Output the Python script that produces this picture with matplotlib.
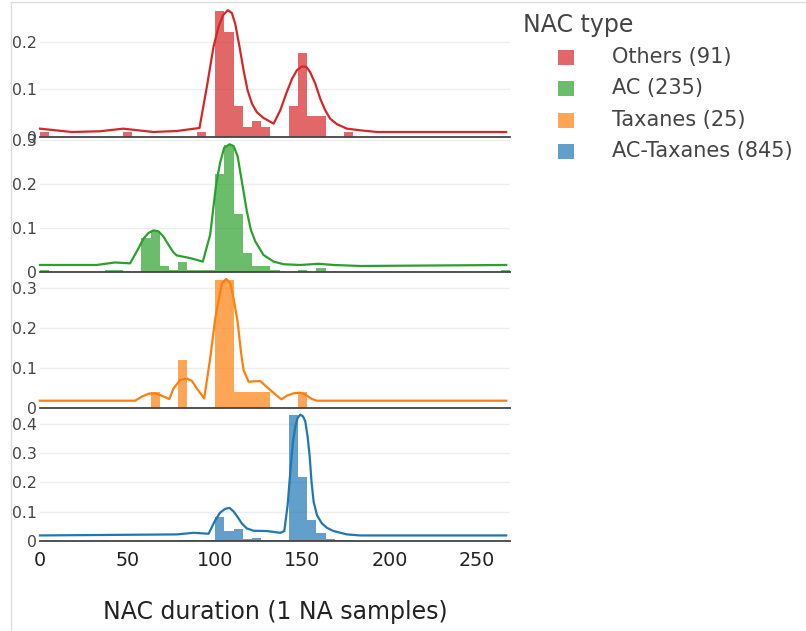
import numpy as np
import matplotlib
matplotlib.use("Agg")
import matplotlib.pyplot as plt
from matplotlib.patches import Rectangle
from matplotlib.lines import Line2D

plt.rcParams['font.family'] = ['DejaVu Sans']

# Histogram bins (shared bin size, all groups start at 0)
bin_width = 5.27
n_bins = 51

# Groups, top to bottom
group_names = ["Others", "AC", "Taxanes", "AC-Taxanes"]
group_sizes = [91, 235, 25, 845]
group_colors = ["#d62728", "#2ca02c", "#ff7f0e", "#1f77b4"]

# counts per bin index (sparse)
others_bins = [0, 9, 17, 19, 20, 21, 22, 23, 24, 27, 28, 29, 30, 33]
others_counts = [1, 1, 1, 24, 20, 6, 2, 3, 2, 6, 16, 4, 4, 1]

ac_bins = [0, 7, 8, 11, 12, 13, 14, 15, 16, 17, 18, 19, 20, 21, 22, 23, 24, 25, 28, 30, 50]
ac_counts = [1, 1, 1, 18, 22, 3, 1, 5, 1, 1, 1, 52, 68, 31, 10, 3, 3, 1, 1, 2, 1]

tax_bins = [12, 15, 19, 20, 21, 22, 23, 24, 28]
tax_counts = [1, 3, 8, 8, 1, 1, 1, 1, 1]

act_bins = [12, 15, 16, 17, 18, 19, 20, 21, 22, 23, 24, 25, 26, 27, 28, 29, 30, 31, 32, 33, 34, 36, 48]
act_counts = [1, 2, 2, 2, 2, 69, 30, 36, 6, 9, 3, 2, 2, 363, 184, 60, 22, 6, 3, 3, 1, 1, 1]

# KDE curves
others_kde_x = [0, 18.1, 34.3, 47.6, 64.9, 78.2, 91.2, 95.4, 99.2, 102.1, 104.6, 107.4, 109.7, 111.6,
                114.1, 116.4, 118.7, 121.2, 124.0, 127.8, 133.6, 137.4, 140.8, 144.1, 146.9, 149.8,
                152.3, 154.5, 157.4, 160.3, 163.1, 166.0, 169.8, 175.5, 183.2, 192.7, 266.6]
others_kde_y = [0.0175, 0.0105, 0.012, 0.0175, 0.0105, 0.0126, 0.0189, 0.105, 0.189, 0.231, 0.255,
                0.266, 0.260, 0.238, 0.189, 0.140, 0.098, 0.070, 0.052, 0.040, 0.028, 0.056, 0.091,
                0.122, 0.140, 0.148, 0.147, 0.136, 0.112, 0.080, 0.056, 0.038, 0.027, 0.0175, 0.014,
                0.0105, 0.0105]

ac_kde_x = [0, 32.4, 42.9, 51.5, 56.3, 59.1, 62.0, 64.9, 67.7, 70.6, 73.5, 76.3, 78.2, 85.9, 93.1, 97.3,
            100.7, 103.0, 105.3, 108.4, 110.7, 113.0, 115.4, 118.3, 120.6, 123.1, 127.8, 133.6, 139.3,
            148.8, 159.3, 167.9, 183.2, 266.6]
ac_kde_y = [0.0153, 0.0153, 0.021, 0.019, 0.053, 0.075, 0.088, 0.094, 0.092, 0.080, 0.061, 0.044, 0.037,
            0.031, 0.023, 0.084, 0.198, 0.248, 0.282, 0.290, 0.286, 0.263, 0.206, 0.137, 0.095, 0.069,
            0.038, 0.023, 0.017, 0.0153, 0.018, 0.0153, 0.013, 0.0153]

tax_kde_x = [0, 54.4, 58.2, 62.0, 65.8, 69.6, 74.0, 76.3, 80.1, 84.0, 86.8, 89.7, 93.9, 97.3, 100.2,
             104.0, 106.5, 108.8, 110.7, 113.0, 114.9, 116.4, 119.3, 125.9, 131.7, 138.0, 141.2, 145.0,
             148.8, 151.7, 155.5, 158.4, 266.6]
tax_kde_y = [0.0175, 0.0175, 0.0275, 0.035, 0.036, 0.030, 0.0217, 0.048, 0.069, 0.073, 0.067, 0.048,
             0.023, 0.123, 0.223, 0.311, 0.322, 0.311, 0.273, 0.215, 0.140, 0.094, 0.065, 0.0667, 0.044,
             0.021, 0.030, 0.036, 0.0375, 0.033, 0.0217, 0.0175, 0.0175]

act_kde_x = [0, 78.2, 87.8, 96.4, 100.2, 103.0, 105.9, 108.4, 110.7, 113.0, 115.4, 118.3, 122.1, 129.8,
             137.4, 139.7, 141.6, 143.1, 144.6, 146.0, 147.3, 148.8, 150.4, 151.7, 153.0, 154.2, 155.3,
             156.5, 158.4, 161.2, 164.1, 167.9, 175.5, 183.2, 266.6]
act_kde_y = [0.019, 0.0225, 0.028, 0.0248, 0.071, 0.097, 0.110, 0.113, 0.101, 0.082, 0.060, 0.043, 0.035,
             0.034, 0.028, 0.034, 0.122, 0.234, 0.336, 0.392, 0.420, 0.432, 0.426, 0.409, 0.358, 0.290,
             0.200, 0.133, 0.088, 0.060, 0.045, 0.034, 0.0225, 0.019, 0.019]

all_bins = [others_bins, ac_bins, tax_bins, act_bins]
all_counts = [others_counts, ac_counts, tax_counts, act_counts]
all_kde = [(others_kde_x, others_kde_y), (ac_kde_x, ac_kde_y),
           (tax_kde_x, tax_kde_y), (act_kde_x, act_kde_y)]

y_ticks = [[0, 0.1, 0.2], [0, 0.1, 0.2, 0.3], [0, 0.1, 0.2, 0.3], [0, 0.1, 0.2, 0.3, 0.4]]
x_ticks = [0, 50, 100, 150, 200, 250]

W, H = 806, 631
fig = plt.figure(figsize=(W / 100, H / 100), dpi=100)

# panel layout in pixels: (zero line y, top y)
panel_px = [(137, 3), (271.7, 137.7), (407.7, 273.7), (541, 407)]
y_tops = [0.281, 0.305, 0.335, 0.458]
left_px, right_px = 40, 510

for i, name in enumerate(group_names):
    y0, y1 = panel_px[i]
    ax = fig.add_axes([left_px / W, 1 - y0 / H, (right_px - left_px) / W, (y0 - y1) / H])
    edges = np.array(all_bins[i]) * bin_width
    probs = np.array(all_counts[i]) / group_sizes[i]
    ax.bar(edges, probs, width=bin_width, align='edge', color=group_colors[i], alpha=0.7,
           linewidth=0, zorder=2)
    kx, ky = all_kde[i]
    ax.plot(kx, ky, color=group_colors[i], lw=1.6, zorder=3, clip_on=False,
            solid_joinstyle='round')

    ax.set_xlim(0, n_bins * bin_width)
    ax.set_ylim(0, y_tops[i])
    ax.set_yticks(y_ticks[i])
    ax.set_yticklabels([f"{t:g}" for t in y_ticks[i]])
    ax.grid(axis='y', color='#eeeeee', lw=1, zorder=0)
    ax.set_axisbelow(True)
    for s in ['top', 'right', 'left']:
        ax.spines[s].set_visible(False)
    ax.spines['bottom'].set_color('#444444')
    ax.spines['bottom'].set_linewidth(1.3)
    ax.spines['bottom'].set_zorder(4)
    ax.tick_params(axis='y', length=0, pad=2, labelsize=11.3, labelcolor='#444444')
    ax.set_xticks(x_ticks)
    if i < 3:
        ax.tick_params(axis='x', length=0, labelbottom=False)
    else:
        ax.tick_params(axis='x', length=0, pad=7, labelsize=13.8, labelcolor='#222222')
        ax.set_xlabel("NAC duration (1 NA samples)", fontsize=17, color='#222222', labelpad=22)
    ax.patch.set_alpha(0)

# legend drawn in figure pixels
fig.text(523 / W, 1 - 25 / H, "NAC type", fontsize=17, color='#444444', va='center', ha='left')
row_y = [57, 88, 120, 151]
for i, name in enumerate(group_names):
    fig.add_artist(Rectangle((558 / W, 1 - (row_y[i] + 7.5) / H), 16 / W, 15 / H,
                             transform=fig.transFigure, color=group_colors[i], alpha=0.7, lw=0))
    fig.text(612 / W, 1 - row_y[i] / H, f"{name} ({group_sizes[i]})", fontsize=15,
             color='#444444', va='center', ha='left')

# frame lines of the screenshot
fig.add_artist(Line2D([11 / W, 11 / W], [0, 1 - 2 / H], color='#dddddd', lw=1, transform=fig.transFigure))
fig.add_artist(Line2D([11 / W, 1], [1 - 2 / H, 1 - 2 / H], color='#dddddd', lw=1, transform=fig.transFigure))

fig.savefig("out.png", dpi=100)
